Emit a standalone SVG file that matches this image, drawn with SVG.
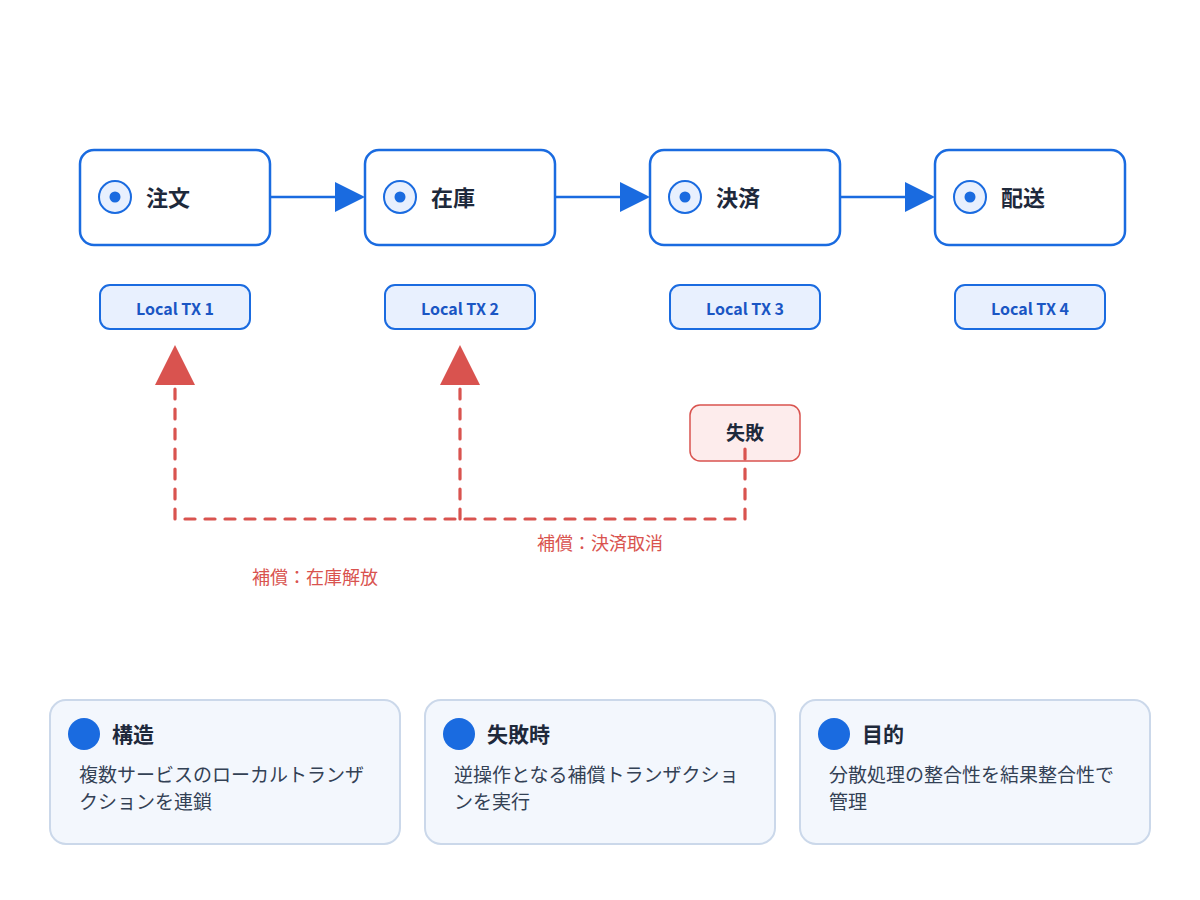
<svg xmlns="http://www.w3.org/2000/svg" width="1200" height="900" viewBox="0 0 1200 900">
<style>
.font{font-family:"Noto Sans CJK JP","Noto Sans",sans-serif}
.node{fill:#ffffff;stroke:#1a6be0;stroke-width:2.5}
.ico{fill:#e8f0fe;stroke:#1a6be0;stroke-width:2}
.dot{fill:#1a6be0}
.lbl{font-family:"Noto Sans CJK JP","Noto Sans",sans-serif;font-size:22px;font-weight:700;fill:#1e293b}
.pill{fill:#e8f0fe;stroke:#1a6be0;stroke-width:2}
.ptxt{font-family:"Noto Sans CJK JP","Noto Sans",sans-serif;font-size:16px;font-weight:700;fill:#1a56c4;text-anchor:middle}
.flow{stroke:#1a6be0;stroke-width:2.5;fill:none}
.comp{stroke:#d9534f;stroke-width:3.2;fill:none;stroke-dasharray:10 10;stroke-linecap:round}
.ctxt{font-family:"Noto Sans CJK JP","Noto Sans",sans-serif;font-size:18px;fill:#d9534f;text-anchor:middle}
.card{fill:#f3f7fd;stroke:#cbd8ea;stroke-width:2}
.ctitle{font-family:"Noto Sans CJK JP","Noto Sans",sans-serif;font-size:21px;font-weight:700;fill:#1e293b}
.cbody{font-family:"Noto Sans CJK JP","Noto Sans",sans-serif;font-size:19px;fill:#334155}
</style>
<rect width="1200" height="900" fill="#ffffff"/>

<g id="node-order">
<rect class="node" x="80" y="150" width="190" height="95" rx="14"/>
<circle class="ico" cx="115" cy="197" r="16"/>
<circle class="dot" cx="115" cy="197" r="5.5"/>
<text class="lbl" x="146" y="206">注文</text>
</g>
<g id="node-stock">
<rect class="node" x="365" y="150" width="190" height="95" rx="14"/>
<circle class="ico" cx="400" cy="197" r="16"/>
<circle class="dot" cx="400" cy="197" r="5.5"/>
<text class="lbl" x="431" y="206">在庫</text>
</g>
<g id="node-pay">
<rect class="node" x="650" y="150" width="190" height="95" rx="14"/>
<circle class="ico" cx="685" cy="197" r="16"/>
<circle class="dot" cx="685" cy="197" r="5.5"/>
<text class="lbl" x="716" y="206">決済</text>
</g>
<g id="node-ship">
<rect class="node" x="935" y="150" width="190" height="95" rx="14"/>
<circle class="ico" cx="970" cy="197" r="16"/>
<circle class="dot" cx="970" cy="197" r="5.5"/>
<text class="lbl" x="1001" y="206">配送</text>
</g>

<g id="tx1"><rect class="pill" x="100" y="285" width="150" height="44" rx="10"/><text class="ptxt" x="175" y="315">Local TX 1</text></g>
<g id="tx2"><rect class="pill" x="385" y="285" width="150" height="44" rx="10"/><text class="ptxt" x="460" y="315">Local TX 2</text></g>
<g id="tx3"><rect class="pill" x="670" y="285" width="150" height="44" rx="10"/><text class="ptxt" x="745" y="315">Local TX 3</text></g>
<g id="tx4"><rect class="pill" x="955" y="285" width="150" height="44" rx="10"/><text class="ptxt" x="1030" y="315">Local TX 4</text></g>

<g id="fail">
<rect x="690" y="405" width="110" height="56" rx="10" fill="#fdecec" stroke="#d9534f" stroke-width="1.5"/>
<text class="font" x="745" y="440" font-size="19" font-weight="700" fill="#1e293b" text-anchor="middle">失敗</text>
</g>

<g id="connectors">
<line class="flow" x1="270" y1="197" x2="336" y2="197"/>
<polygon points="335,182 365,197 335,212" fill="#1a6be0"/>
<line class="flow" x1="555" y1="197" x2="621" y2="197"/>
<polygon points="620,182 650,197 620,212" fill="#1a6be0"/>
<line class="flow" x1="840" y1="197" x2="906" y2="197"/>
<polygon points="905,182 935,197 905,212" fill="#1a6be0"/>

<path class="comp" d="M745,449 V519 H175 V386"/>
<polygon points="175,345 195,385 155,385" fill="#d9534f"/>
<path class="comp" d="M460,519 V386"/>
<polygon points="460,345 480,385 440,385" fill="#d9534f"/>
<text class="ctxt" x="600" y="550">補償：決済取消</text>
<text class="ctxt" x="315" y="584">補償：在庫解放</text>
</g>

<g id="card-structure">
<rect class="card" x="50" y="700" width="350" height="144" rx="16"/>
<circle cx="84" cy="734" r="16" fill="#1a6be0"/>
<text class="ctitle" x="112" y="742">構造</text>
<text class="cbody" x="79" y="782">複数サービスのローカルトランザ</text>
<text class="cbody" x="79" y="809">クションを連鎖</text>
</g>
<g id="card-failure">
<rect class="card" x="425" y="700" width="350" height="144" rx="16"/>
<circle cx="459" cy="734" r="16" fill="#1a6be0"/>
<text class="ctitle" x="487" y="742">失敗時</text>
<text class="cbody" x="454" y="782">逆操作となる補償トランザクショ</text>
<text class="cbody" x="454" y="809">ンを実行</text>
</g>
<g id="card-purpose">
<rect class="card" x="800" y="700" width="350" height="144" rx="16"/>
<circle cx="834" cy="734" r="16" fill="#1a6be0"/>
<text class="ctitle" x="862" y="742">目的</text>
<text class="cbody" x="829" y="782">分散処理の整合性を結果整合性で</text>
<text class="cbody" x="829" y="809">管理</text>
</g>
</svg>
